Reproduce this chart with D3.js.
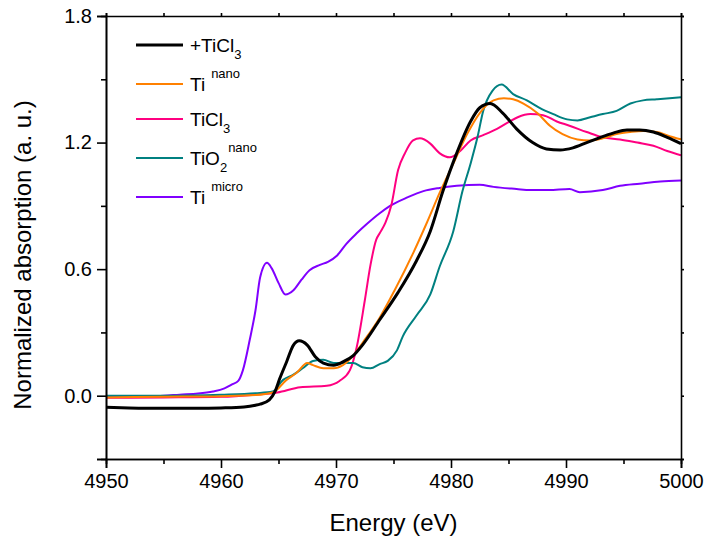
<!DOCTYPE html>
<html><head><meta charset="utf-8">
<script src="https://cdn.jsdelivr.net/npm/d3@7"></script>
<style>
html,body{margin:0;padding:0;background:#fff;}
svg{display:block;font-family:"Liberation Sans",Arial,sans-serif;}
</style></head>
<body>
<svg id="chart" width="705" height="539"></svg>
<script>
// ---- data ----
const xTicks = [4950, 4960, 4970, 4980, 4990, 5000];
const yTicks = [0.0, 0.6, 1.2, 1.8];
const yTickLabels = ["0.0", "0.6", "1.2", "1.8"];

const blackE = [4950,4952,4955,4958,4960,4962,4963,4963.4,4964.2,4964.7,4965.1,4965.7,4966.3,4966.8,4967.5,4968.2,4968.9,4969.8,4970.6,4971.5,4972.3,4973.8,4975.4,4977,4978.2,4979.3,4980.5,4981.7,4982.5,4983.4,4984.5,4985.7,4987.1,4988.3,4989.5,4990.6,4991.8,4993,4994.1,4995.3,4996.4,4997.6,4998.8,5000];
const blackV = [-0.055,-0.058,-0.06,-0.06,-0.058,-0.053,-0.045,-0.04,-0.02,0.02,0.08,0.16,0.24,0.26,0.24,0.185,0.155,0.145,0.16,0.19,0.24,0.36,0.49,0.64,0.78,0.97,1.15,1.30,1.365,1.385,1.34,1.265,1.20,1.17,1.165,1.175,1.20,1.225,1.245,1.26,1.26,1.25,1.225,1.195];

const nanoE = [4950,4955,4960,4963,4964.5,4965.7,4966.6,4967.5,4968,4968.9,4969.8,4970.6,4971.5,4972.3,4973.8,4975.1,4976.7,4977.9,4979,4980.2,4981.4,4982.5,4983.7,4984.6,4985.4,4986.3,4987.5,4988.6,4989.7,4991,4992.1,4993.2,4994.4,4995.6,4996.7,4997.9,4999,5000];
const nanoV = [-0.008,-0.005,-0.002,0.003,0.015,0.075,0.11,0.155,0.145,0.13,0.13,0.145,0.19,0.25,0.37,0.50,0.675,0.82,0.96,1.10,1.24,1.34,1.40,1.41,1.405,1.385,1.34,1.28,1.24,1.215,1.21,1.22,1.24,1.25,1.255,1.25,1.23,1.215];

const tiCl3E = [4950,4955,4960,4963,4964.9,4966.9,4969.2,4970.3,4971.2,4971.8,4972.5,4973,4973.5,4973.8,4974.3,4974.8,4975.4,4976,4976.7,4977.3,4978.2,4979,4979.9,4980.8,4981.7,4982.8,4984,4985.1,4985.8,4986.9,4988,4989.2,4990.3,4991.8,4993.2,4994.7,4996.2,4997.6,4998.8,5000];
const tiCl3V = [-0.01,-0.008,-0.005,0.005,0.015,0.04,0.047,0.07,0.12,0.23,0.45,0.62,0.74,0.77,0.82,0.9,1.07,1.15,1.21,1.22,1.195,1.15,1.13,1.16,1.21,1.235,1.265,1.30,1.32,1.335,1.33,1.30,1.28,1.25,1.225,1.215,1.20,1.185,1.16,1.14];

const tio2E = [4950,4955,4960,4963,4964.5,4965.4,4966.3,4967.1,4968,4968.9,4969.8,4970.6,4971.5,4972.3,4973,4973.8,4974.5,4975.3,4975.8,4977,4978.2,4979,4980.2,4981,4981.7,4982.3,4982.8,4983.6,4984.4,4985.4,4986.6,4987.7,4988.9,4990.1,4991,4992.1,4993.2,4994.4,4995.6,4996.7,4997.9,4999,5000];
const tio2V = [0.0,0.0,0.005,0.012,0.02,0.075,0.10,0.13,0.165,0.17,0.155,0.155,0.155,0.135,0.13,0.15,0.165,0.215,0.28,0.38,0.48,0.61,0.78,0.97,1.10,1.225,1.35,1.445,1.475,1.43,1.40,1.365,1.335,1.31,1.305,1.32,1.335,1.35,1.385,1.40,1.405,1.41,1.415];

const microE = [4950,4953,4955,4956.4,4958,4959.3,4960.3,4961,4961.5,4961.9,4962.5,4963,4963.4,4964,4964.4,4965,4965.6,4966.3,4967,4967.7,4968.6,4969.3,4970.1,4970.9,4971.8,4972.7,4973.8,4974.7,4976.2,4977.6,4979,4980.5,4982.5,4983.7,4985.7,4986.9,4988.5,4990.3,4991.2,4993.2,4994.7,4996.4,4998.2,5000];
const microV = [-0.005,-0.003,0.0,0.005,0.01,0.02,0.035,0.055,0.07,0.12,0.265,0.405,0.56,0.63,0.605,0.535,0.48,0.50,0.55,0.595,0.62,0.635,0.665,0.72,0.77,0.815,0.865,0.90,0.94,0.97,0.985,0.995,1.0,0.99,0.98,0.975,0.975,0.98,0.965,0.975,0.995,1.005,1.015,1.02];

const seriesNames = ["+TiCl3", "Ti nano", "TiCl3", "TiO2 nano", "Ti micro"];
const seriesColors = ["#000000", "#ff8000", "#ff0080", "#008080", "#8000ff"];
const seriesWidths = [3, 2, 2, 2, 2];
const seriesE = [blackE, nanoE, tiCl3E, tio2E, microE];
const seriesV = [blackV, nanoV, tiCl3V, tio2V, microV];
// legend labels: [main, sub, sup]
const legendParts = [["+TiCl","3",""],["Ti","","nano"],["TiCl","3",""],["TiO","2","nano"],["Ti","","micro"]];

// ---- layout ----
const L = 106, R = 681, T = 16, B = 459;
const svg = d3.select("#chart");
const x = d3.scaleLinear().domain([4950, 5000]).range([L, R]);
const y = d3.scaleLinear().domain([-0.3, 1.8]).range([B, T]);

// curves (drawing order: keep black on top-ish)
const drawOrder = [4, 2, 3, 1, 0];
const line = d3.line().x(d => x(d[0])).y(d => y(d[1])).curve(d3.curveMonotoneX);
const clip = svg.append("clipPath").attr("id","clip").append("rect")
  .attr("x", L).attr("y", T).attr("width", R-L).attr("height", B-T);
const gLines = svg.append("g").attr("clip-path","url(#clip)");
drawOrder.forEach(i => {
  const pts = seriesE[i].map((e, k) => [e, seriesV[i][k]]);
  gLines.append("path").attr("d", line(pts)).attr("fill","none")
    .attr("stroke", seriesColors[i]).attr("stroke-width", seriesWidths[i])
    .attr("stroke-linejoin","round");
});

// axes
const fmtY = d => yTickLabels[yTicks.indexOf(d)] || "";
const xAxis = d3.axisBottom(x).tickValues(xTicks).tickFormat(d3.format("d")).tickSize(9).tickPadding(6);
const xMinor = d3.axisBottom(x).tickValues([4955,4965,4975,4985,4995]).tickFormat("").tickSize(5);
const yAxis = d3.axisLeft(y).tickValues([-0.3,0.0,0.6,1.2,1.8]).tickFormat(fmtY).tickSize(9).tickPadding(5);
const yMinor = d3.axisLeft(y).tickValues([0.3,0.9,1.5]).tickFormat("").tickSize(5);
const xTop = d3.axisTop(x).tickValues([4950,4955,4960,4965,4970,4975,4980,4985,4990,4995,5000]).tickFormat("").tickSize(3);
const yRight = d3.axisRight(y).tickValues([-0.3,0,0.3,0.6,0.9,1.2,1.5,1.8]).tickFormat("").tickSize(3);

function style(g){
  g.selectAll("path.domain").attr("stroke","#000").attr("stroke-width",1.6);
  g.selectAll(".tick line").attr("stroke","#000").attr("stroke-width",1.6);
  g.selectAll(".tick text").attr("fill","#000").style("font-size","20px").style("font-family","'Liberation Sans',Arial,sans-serif");
}
svg.append("g").attr("transform",`translate(0,${B})`).call(xAxis).call(style);
svg.append("g").attr("transform",`translate(0,${B})`).call(xMinor).call(style);
svg.append("g").attr("transform",`translate(${L},0)`).call(yAxis).call(style);
svg.append("g").attr("transform",`translate(${L},0)`).call(yMinor).call(style);
svg.append("g").attr("transform",`translate(0,${T})`).call(xTop).call(style);
svg.append("g").attr("transform",`translate(${R},0)`).call(yRight).call(style);

// axis titles
svg.append("text").attr("x", (L+R)/2).attr("y", 531).attr("text-anchor","middle")
  .style("font-size","24px").attr("fill","#000").text("Energy (eV)");
svg.append("text").attr("transform","translate(31,255) rotate(-90)").attr("text-anchor","middle")
  .style("font-size","24px").attr("fill","#000").text("Normalized absorption (a. u.)");

// legend
const legendY = [45, 84, 119, 158, 197];
seriesNames.forEach((n, i) => {
  const g = svg.append("g");
  g.append("line").attr("x1",136).attr("x2",183).attr("y1",legendY[i]).attr("y2",legendY[i])
    .attr("stroke", seriesColors[i]).attr("stroke-width", seriesWidths[i]);
  const t = g.append("text").attr("x",190).attr("y",legendY[i]+7).style("font-size","19px").attr("fill","#000");
  const p = legendParts[i];
  t.append("tspan").text(p[0]);
  if (p[1]) t.append("tspan").attr("dy", 7).style("font-size","13px").text(p[1]);
  if (p[2]) t.append("tspan").attr("dx", p[1] ? 1 : 6).attr("dy", p[1] ? -20 : -13).style("font-size","13px").text(p[2]);
});
</script>
</body></html>
